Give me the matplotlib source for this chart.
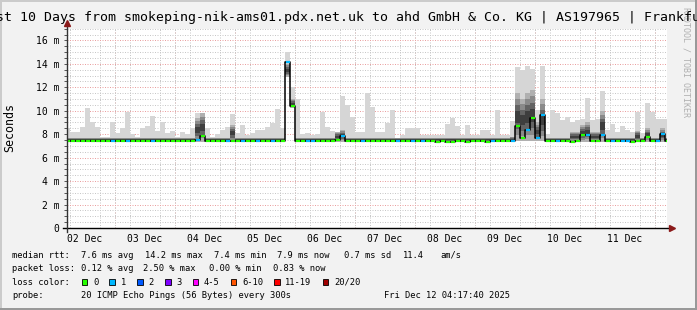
import matplotlib
matplotlib.use('Agg')
import matplotlib.pyplot as plt
from matplotlib.lines import Line2D
from matplotlib.patches import Rectangle
from matplotlib.ticker import MultipleLocator, FixedLocator, FuncFormatter
import numpy as np

plt.rcParams['font.family'] = ['DejaVu Sans Mono', 'DejaVu Sans']

W, H, DPI = 697, 310, 100

title = 'Last 10 Days from smokeping-nik-ams01.pdx.net.uk to ahd GmbH & Co. KG | AS197965 | Frankfurt'
day_labels = ['02 Dec', '03 Dec', '04 Dec', '05 Dec', '06 Dec',
              '07 Dec', '08 Dec', '09 Dec', '10 Dec', '11 Dec']

# 2-hour buckets; hours counted from 02 Dec 00:00, first bucket starts 04:00
first_bin_hour = 4
bin_hours = 2
view_hours = (4.8, 244.8)
y_max_ms = 17.0

median_ms = [
    7.45, 7.45, 7.45, 7.45, 7.45, 7.45, 7.45, 7.45, 7.45, 7.45,
    7.45, 7.45, 7.45, 7.45, 7.45, 7.45, 7.45, 7.45, 7.45, 7.45,
    7.45, 7.45, 7.45, 7.45, 7.45, 7.45, 7.5, 7.85, 7.45, 7.45,
    7.45, 7.45, 7.45, 7.45, 7.45, 7.45, 7.45, 7.45, 7.45, 7.45,
    7.45, 7.45, 7.45, 7.45, 14.2, 10.4, 7.45, 7.45, 7.45, 7.45,
    7.45, 7.45, 7.45, 7.45, 7.5, 7.85, 7.45, 7.45, 7.45, 7.45,
    7.45, 7.45, 7.45, 7.45, 7.45, 7.45, 7.45, 7.45, 7.45, 7.45,
    7.45, 7.45, 7.45, 7.45, 7.35, 7.45, 7.35, 7.35, 7.45, 7.45,
    7.35, 7.45, 7.45, 7.45, 7.35, 7.45, 7.45, 7.45, 7.45, 7.45,
    8.7, 7.7, 8.35, 9.4, 7.7, 9.65, 7.45, 7.45, 7.45, 7.45,
    7.45, 7.35, 7.45, 7.9, 7.9, 7.45, 7.45, 7.95, 7.45, 7.45,
    7.45, 7.45, 7.45, 7.35, 7.45, 7.45, 7.8, 7.45, 7.45, 8.0,
    7.45,
]

smoke_low_ms = [
    7.35, 7.35, 7.35, 7.35, 7.35, 7.35, 7.35, 7.35, 7.35, 7.35,
    7.35, 7.35, 7.35, 7.35, 7.35, 7.35, 7.35, 7.35, 7.35, 7.35,
    7.35, 7.35, 7.35, 7.35, 7.35, 7.35, 7.35, 7.35, 7.35, 7.35,
    7.35, 7.35, 7.35, 7.35, 7.35, 7.35, 7.35, 7.35, 7.35, 7.35,
    7.35, 7.35, 7.35, 7.35, 12.9, 10.2, 7.35, 7.35, 7.35, 7.35,
    7.35, 7.35, 7.35, 7.35, 7.35, 7.35, 7.35, 7.35, 7.35, 7.35,
    7.35, 7.35, 7.35, 7.35, 7.35, 7.35, 7.35, 7.35, 7.35, 7.35,
    7.35, 7.35, 7.35, 7.35, 7.35, 7.35, 7.35, 7.35, 7.35, 7.35,
    7.35, 7.35, 7.35, 7.35, 7.35, 7.35, 7.35, 7.35, 7.35, 7.35,
    7.4, 7.4, 7.4, 7.4, 7.4, 7.4, 7.35, 7.35, 7.35, 7.35,
    7.35, 7.35, 7.35, 7.35, 7.35, 7.35, 7.35, 7.35, 7.35, 7.35,
    7.35, 7.35, 7.35, 7.35, 7.35, 7.35, 7.35, 7.35, 7.35, 7.35,
    7.35,
]

smoke_high_ms = [
    8.5, 8.2, 8.2, 8.6, 10.2, 9.0, 8.6, 7.8, 7.8, 9.0,
    8.1, 8.5, 9.9, 8.0, 7.8, 8.5, 8.7, 9.55, 8.25, 9.0,
    8.1, 8.3, 7.8, 8.2, 8.0, 8.5, 9.85, 9.8, 8.5, 7.8,
    8.0, 8.35, 8.65, 9.7, 8.1, 8.8, 7.9, 8.1, 8.4, 8.4,
    8.6, 8.95, 10.15, 8.5, 15.0, 12.0, 11.0, 8.0, 8.1, 7.9,
    8.0, 9.9, 8.6, 8.3, 8.0, 11.3, 10.5, 9.5, 8.2, 8.2,
    11.5, 10.35, 8.2, 8.2, 8.95, 10.05, 7.6, 7.9, 8.5, 8.5,
    8.5, 7.9, 7.9, 7.9, 7.9, 7.9, 8.9, 9.4, 8.7, 7.9,
    8.8, 7.9, 7.9, 8.4, 8.4, 7.9, 10.05, 7.9, 7.9, 9.1,
    13.7, 13.5, 13.8, 13.6, 10.1, 13.8, 8.0, 10.05, 9.8, 9.2,
    9.5, 9.0, 9.2, 9.3, 11.1, 9.2, 9.3, 11.7, 8.4, 8.9,
    8.2, 8.7, 8.4, 8.2, 9.9, 8.1, 10.65, 9.9, 9.3, 9.3,
    9.3,
]

dense_high_ms = [
    7.7, 7.7, 7.7, 7.7, 7.7, 7.7, 7.7, 7.7, 7.7, 7.7,
    7.7, 7.7, 7.7, 7.7, 7.7, 7.7, 7.7, 7.7, 7.7, 7.7,
    7.7, 7.7, 7.7, 7.7, 7.7, 7.7, 9.4, 9.8, 7.7, 7.7,
    7.7, 7.7, 7.7, 8.8, 7.7, 7.7, 7.7, 7.7, 7.7, 7.7,
    7.7, 7.7, 7.7, 7.7, 14.0, 11.0, 7.7, 7.7, 7.7, 7.7,
    7.7, 7.7, 7.7, 7.7, 8.2, 8.4, 7.7, 7.7, 7.7, 7.7,
    7.7, 7.7, 7.7, 7.7, 7.7, 7.7, 7.7, 7.7, 7.7, 7.7,
    7.7, 7.7, 7.7, 7.7, 7.7, 7.7, 7.7, 7.7, 7.7, 7.7,
    7.7, 7.7, 7.7, 7.7, 7.7, 7.7, 7.7, 7.7, 7.7, 7.8,
    11.5, 11.0, 11.5, 11.8, 9.0, 11.0, 7.7, 7.7, 7.7, 7.7,
    7.7, 8.2, 8.2, 8.8, 9.0, 8.2, 8.2, 10.0, 7.7, 7.7,
    7.7, 7.7, 7.7, 7.7, 8.3, 7.7, 8.5, 7.7, 7.7, 8.5,
    7.7,
]

lost_pings = [
    0, 0, 0, 0, 0, 0, 0, 0, 0, 1,
    0, 0, 1, 0, 0, 0, 0, 1, 0, 0,
    0, 0, 0, 0, 0, 0, 1, 0, 0, 0,
    0, 0, 1, 0, 0, 1, 0, 0, 1, 0,
    0, 1, 0, 0, 1, 0, 0, 0, 1, 1,
    0, 0, 0, 0, 0, 1, 0, 0, 0, 1,
    0, 0, 0, 0, 0, 0, 1, 0, 0, 1,
    0, 1, 0, 0, 0, 0, 0, 0, 0, 0,
    0, 0, 0, 0, 0, 1, 0, 0, 0, 1,
    0, 0, 1, 0, 1, 1, 0, 0, 1, 0,
    0, 0, 0, 0, 1, 0, 0, 1, 0, 1,
    0, 1, 1, 0, 0, 0, 0, 0, 1, 1,
    0,
]

loss_legend_labels = ['0', '1', '2', '3', '4-5', '6-10', '11-19', '20/20']
loss_legend_colors = ['#26ff00', '#00b8ff', '#0059ff', '#7e00ff', '#ff00ff', '#ff5500', '#ff0000', '#a10000']

stats_rtt = [('median rtt:', 12), ('7.6 ms avg', 80.7), ('14.2 ms max', 145), ('7.4 ms min', 214),
             ('7.9 ms now', 277), ('0.7 ms sd', 344), ('11.4', 403), ('am/s', 440)]
stats_loss = [('packet loss:', 12), ('0.12 % avg', 80.7), ('2.50 % max', 143.3),
              ('0.00 % min', 209.3), ('0.83 % now', 273.3)]
loss_legend_x = [81.7, 109.3, 137.3, 165, 192.7, 230.7, 274, 322.7]
probe_text = '20 ICMP Echo Pings (56 Bytes) every 300s'
stamp_text = 'Fri Dec 12 04:17:40 2025'


def loss_color(n):
    if n <= 0:
        return loss_legend_colors[0]
    if n == 1:
        return loss_legend_colors[1]
    if n == 2:
        return loss_legend_colors[2]
    if n == 3:
        return loss_legend_colors[3]
    if n <= 5:
        return loss_legend_colors[4]
    if n <= 10:
        return loss_legend_colors[5]
    if n <= 19:
        return loss_legend_colors[6]
    return loss_legend_colors[7]


fig = plt.figure(figsize=(W / DPI, H / DPI), dpi=DPI)
fig.patch.set_facecolor('#f2f2f2')

ax_left, ax_right, ax_bottom_px, ax_top_px = 67, 667, 228, 28.7
ax = fig.add_axes([ax_left / W, 1 - ax_bottom_px / H, (ax_right - ax_left) / W,
                   (ax_bottom_px - ax_top_px) / H])
ax.set_facecolor('white')
ax.set_xlim(*view_hours)
ax.set_ylim(0, y_max_ms)

n = len(median_ms)
left = first_bin_hour + bin_hours * np.arange(n)
med = np.array(median_ms)
low = np.array(smoke_low_ms)
high = np.array(smoke_high_ms)
dense = np.array(dense_high_ms)

# grid
ax.xaxis.set_minor_locator(MultipleLocator(6))
ax.yaxis.set_minor_locator(MultipleLocator(0.5))
ax.yaxis.set_major_locator(MultipleLocator(2))
ax.grid(which='minor', color='#c8c8c8', linestyle=(0, (1, 1.5)), linewidth=0.72, zorder=0)
ax.grid(which='major', axis='y', color='#eaa0a0', linestyle=(0, (1, 1.5)), linewidth=0.72, zorder=0)
for k in range(len(day_labels) + 1):
    ax.axvline(24 * k, color='#eaa0a0', linestyle=(0, (1, 1.5)), linewidth=0.72, zorder=0.5)
ax.set_axisbelow(True)

# smoke: light envelope, then darker bands centred in the dense part
ax.bar(left, high - low, bottom=low, width=bin_hours, align='edge', color='#d6d6d6',
       linewidth=0, zorder=1)
span = dense - low
for frac, col in [(1.0, '#b0b0b0'), (0.75, '#8a8a8a'), (0.5, '#636363'), (0.25, '#3e3e3e')]:
    ax.bar(left, span * frac, bottom=low + span * (1 - frac) / 2, width=bin_hours, align='edge',
           color=col, linewidth=0, zorder=1.1)

# median line
edges = np.append(left, left[-1] + bin_hours)
ax.step(edges, np.append(med, med[-1]), where='post', color='black', linewidth=1.1, zorder=2)
ax.hlines(med, left + 0.3, left + bin_hours, colors=[loss_color(v) for v in lost_pings],
          linewidth=1.6, zorder=3)

# ticks and labels
ax.xaxis.set_major_locator(FixedLocator([12 + 24 * k for k in range(len(day_labels))]))
ax.set_xticklabels(day_labels)
ax.yaxis.set_major_formatter(FuncFormatter(lambda v, p: '0' if v == 0 else f'{int(round(v))} m'))
ax.tick_params(axis='x', which='both', length=0, pad=4.0, labelsize=7)
ax.tick_params(axis='y', which='both', length=2.0, width=0.7, direction='out', color='#555555',
               pad=3.3, labelsize=7)
for s in ax.spines.values():
    s.set_visible(False)

# axis lines with arrows
ax.add_line(Line2D([-0.007, 1.006], [0, 0], transform=ax.transAxes, color='black',
                   linewidth=1.0, clip_on=False, zorder=5))
ax.add_line(Line2D([0, 0], [-0.02, 1.025], transform=ax.transAxes, color='#333333',
                   linewidth=1.0, clip_on=False, zorder=5))
ax.plot([1.008], [0], marker='>', markersize=4.5, color='#8b1a1a', transform=ax.transAxes,
        clip_on=False, zorder=6)
ax.plot([0], [1.028], marker='^', markersize=4.5, color='#8b1a1a', transform=ax.transAxes,
        clip_on=False, zorder=6)

# title and side texts
fig.text(686 / W, 1 - 62 / H, 'RRDTOOL / TOBI OETIKER', rotation=270, ha='center', va='center',
         fontsize=6.0, color='#b0b0b0')
fig.text(0.5, 1 - 17 / H, title, ha='center', va='center', fontsize=9.5, color='black')
fig.text(10 / W, 1 - 127 / H, 'Seconds', rotation=90, ha='center', va='center', fontsize=8.4)

# legend
fs = 6.3
row_y = [255, 268.3, 282.3, 296]
for txt, x in stats_rtt:
    fig.text(x / W, 1 - row_y[0] / H, txt, ha='left', va='center', fontsize=fs)
for txt, x in stats_loss:
    fig.text(x / W, 1 - row_y[1] / H, txt, ha='left', va='center', fontsize=fs)
fig.text(12 / W, 1 - row_y[2] / H, 'loss color:', ha='left', va='center', fontsize=fs)
sq = 5.7
for lab, col, x in zip(loss_legend_labels, loss_legend_colors, loss_legend_x):
    fig.add_artist(Rectangle((x / W, 1 - (row_y[2] + sq / 2) / H), sq / W, sq / H,
                             transform=fig.transFigure, facecolor=col, edgecolor='black',
                             linewidth=0.6))
    fig.text((x + sq + 5.5) / W, 1 - row_y[2] / H, lab, ha='left', va='center', fontsize=fs)
fig.text(12 / W, 1 - row_y[3] / H, 'probe:', ha='left', va='center', fontsize=fs)
fig.text(80.7 / W, 1 - row_y[3] / H, probe_text, ha='left', va='center', fontsize=fs)
fig.text(510 / W, 1 - row_y[3] / H, stamp_text, ha='right', va='center', fontsize=fs)

# frame
for (x0, y0, w, h, c) in [(0, H - 2, W, 2, '#cbcbcb'), (0, 0, 2, H, '#cbcbcb'),
                           (0, 0, W, 2, '#999999'), (W - 2, 0, 2, H, '#999999')]:
    fig.add_artist(Rectangle((x0 / W, y0 / H), w / W, h / H, transform=fig.transFigure,
                             facecolor=c, edgecolor='none'))

fig.savefig('out.png', dpi=DPI, facecolor=fig.get_facecolor())
